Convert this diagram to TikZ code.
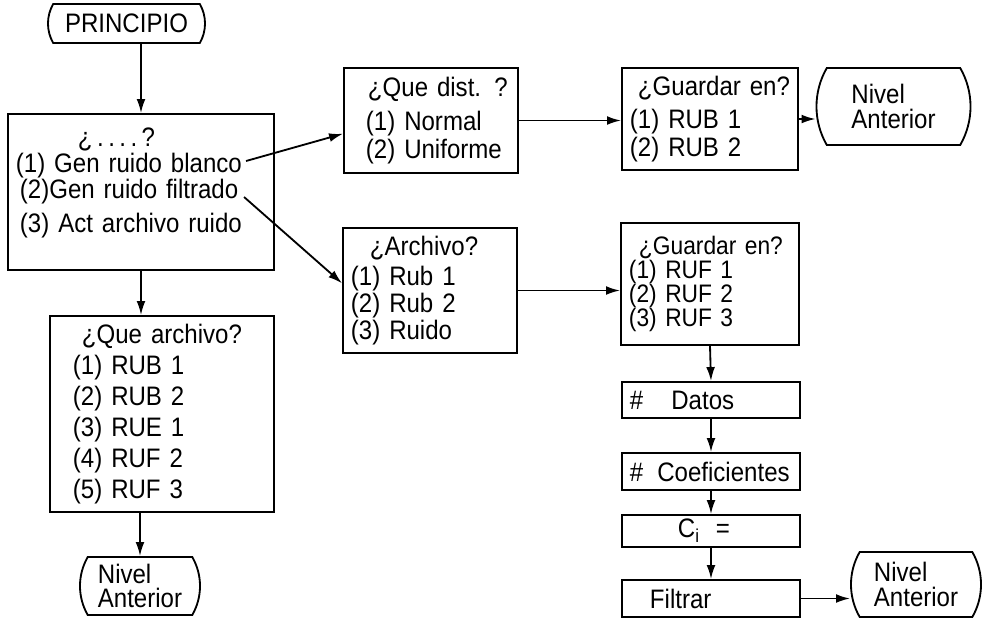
\documentclass[tikz,border=0pt]{standalone}
\usepackage{fontspec}
\setmainfont{Liberation Sans}[FakeStretch=0.9]
\usepackage{tikz}
\usetikzlibrary{arrows.meta, shapes.misc}

\begin{document}
\begin{tikzpicture}[x=0.025cm, y=-0.025cm, line width=1.3pt,
  font=\fontsize{19}{20}\selectfont,
  caja/.style={draw, rectangle, inner xsep=0.2cm, inner ysep=0pt, align=left},
  term/.style={draw, rounded rectangle, rounded rectangle arc length=60, inner sep=0pt, align=left},
  flecha/.style={-{Latex[length=3.5mm,width=2.2mm]}}]
\useasboundingbox (0,0) rectangle (988,620);

% Columna izquierda
\node[term, minimum width=3.925cm, minimum height=0.975cm] (principio) at (126.5,23.5) {PRINCIPIO};
\node[caja, text width=6.25cm, minimum height=3.9cm, font=\fontsize{19}{18.6}\selectfont] (menu) at (141,192)
  {\hspace*{1.55cm}\mbox{¿\,.\,.\,.\,.\,?}\\ (1) Gen ruido blanco\\ \hspace*{0.1cm}(2)Gen ruido filtrado\\[0.2cm]
   \hspace*{0.1cm}(3) Act archivo ruido\rule[-0.6cm]{0pt}{0pt}};
\node[caja, text width=5.2cm, minimum height=4.9cm, font=\fontsize{19}{22}\selectfont] (quearch) at (162,414)
  {\hspace*{0.6cm}¿Que archivo?\\ \hspace*{0.375cm}(1) RUB 1\\ \hspace*{0.375cm}(2) RUB 2\\
   \hspace*{0.375cm}(3) RUE 1\\ \hspace*{0.375cm}(4) RUF 2\\ \hspace*{0.375cm}(5) RUF 3};
\node[term, minimum width=3cm, minimum height=1.45cm, font=\fontsize{19}{17.5}\selectfont] (nivelB) at (140,586) {Nivel\\Anterior};

% Ruido blanco
\node[caja, text width=3.95cm, minimum height=2.625cm, font=\fontsize{19}{19.8}\selectfont] (dist) at (431,120.5)
  {\hspace*{0.4cm}\mbox{¿Que dist. ?}\\[0.15cm] \hspace*{0.35cm}(1) Normal\\ \hspace*{0.35cm}(2) Uniforme};
\node[caja, text width=4cm, minimum height=2.55cm, font=\fontsize{19}{19.8}\selectfont] (guardarB) at (710,119)
  {\hspace*{0.2cm}\mbox{¿Guardar en?}\\[0.15cm] (1) RUB 1\\ (2) RUB 2};
\node[term, minimum width=3.325cm, minimum height=1.925cm, font=\fontsize{19}{17.7}\selectfont] (nivelA) at (893.5,106.5) {Nivel\\Anterior};

% Ruido filtrado
\node[caja, text width=3.95cm, minimum height=3.125cm, font=\fontsize{19}{19.1}\selectfont] (archivo) at (430,290.5)
  {\hspace*{0.475cm}¿Archivo?\\[0.07cm] (1) Rub 1\\ (2) Rub 2\\ (3) Ruido};
\node[caja, text width=4.05cm, minimum height=3.05cm, font=\fontsize{18}{17}\selectfont] (guardarF) at (710,284)
  {\hspace*{0.25cm}\mbox{¿Guardar en?}\\ (1) RUF 1\\ (2) RUF 2\\ (3) RUF 3};
\node[caja, text width=4.05cm, minimum height=0.9cm] (datos) at (711,400) {\#\hspace{0.7cm}Datos};
\node[caja, text width=4.05cm, minimum height=0.925cm] (coef) at (711,471.5) {\mbox{\#\hspace{0.35cm}Coeficientes}};
\node[caja, text width=4.05cm, minimum height=0.8cm] (ci) at (711,531) {\hspace*{1.2cm}C\textsubscript{i}\hspace{0.4cm}=};
\node[caja, text width=4.05cm, minimum height=0.925cm] (filtrar) at (711,598.5) {\hspace*{0.5cm}Filtrar};
\node[term, minimum width=3.05cm, minimum height=1.625cm, font=\fontsize{19}{17.5}\selectfont] (nivelC) at (916,584.5) {Nivel\\Anterior};

% Conexiones
\coordinate (blanco) at ([shift={(239,-31)}]menu.west);
\coordinate (filtrado) at ([shift={(237,5)}]menu.west);
\draw[flecha] (menu.north |- principio.south) -- (menu.north);
\draw[flecha] (menu.south) -- (menu.south |- quearch.north);
\draw[flecha] (quearch.south -| nivelB.north) -- (nivelB.north);
\draw[flecha] (blanco) -- ([yshift=-0.33cm]dist.west);
\draw[flecha] (filtrado) -- ([yshift=0.18cm]archivo.west);
\draw[flecha] (dist.east) -- (dist.east -| guardarB.west);
\draw[flecha] (guardarB.east) -- (guardarB.east -| nivelA.west);
\draw[flecha] (archivo.east) -- (archivo.east -| guardarF.west);
\draw[flecha] (guardarF.south) -- (datos.north);
\draw[flecha] (datos.south) -- (coef.north);
\draw[flecha] (coef.south) -- (ci.north);
\draw[flecha] (ci.south) -- (filtrar.north);
\draw[flecha] (filtrar.east) -- (filtrar.east -| nivelC.west);

\end{tikzpicture}
\end{document}
